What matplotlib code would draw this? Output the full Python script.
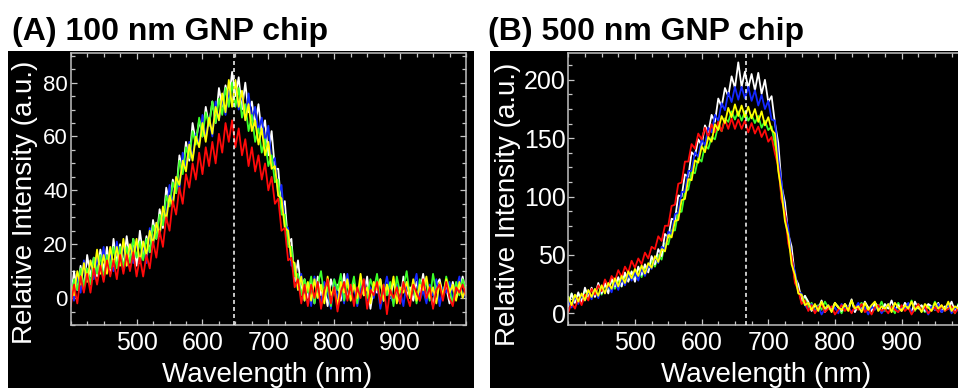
import numpy as np
import matplotlib
matplotlib.use("Agg")
import matplotlib.pyplot as plt
from matplotlib.patches import Rectangle
from matplotlib.ticker import MultipleLocator

plt.rcParams['font.family'] = ['Liberation Sans', 'DejaVu Sans']

# wavelength grid (nm), one reading every 5 nm
wavelength = np.arange(400, 1001, 5)

# (A) 100 nm GNP chip
a_white = [-1,10,3,12,3,16,8,15,8,18,
           10,19,9,22,13,20,12,23,14,22,
           12,25,16,23,17,29,22,33,26,41,
           35,44,39,53,47,58,51,65,58,66,
           60,71,64,73,65,78,71,79,73,84,
           75,82,70,80,69,73,64,72,61,66,
           53,62,48,48,33,36,20,22,6,14,
           3,7,0,6,-2,8,1,4,-3,7,
           2,5,-1,9,0,3,6,-2,5,1,
           8,-4,4,2,7,-1,5,0,6,3,
           -2,8,1,4,-1,6,2,9,0,3,
           -3,5,7,1,4,-2,6,0,3,8,
           2]
a_blue = [7,-1,8,2,14,7,14,7,15,10,
          19,10,17,10,21,14,20,12,19,13,
          21,13,20,13,26,20,28,23,33,30,
          42,35,45,40,54,49,58,52,61,57,
          68,59,67,60,73,66,74,68,77,72,
          81,70,76,66,76,66,71,62,67,58,
          64,50,52,38,42,27,26,12,13,3,
          9,-1,5,-3,8,1,-2,6,2,-4,
          7,0,4,-2,9,1,5,-3,3,7,
          -1,4,0,6,-4,2,8,1,-2,5,
          3,-3,6,0,4,9,-1,3,-2,5,
          1,7,-3,4,2,6,-1,3,8,0,
          2]
a_green = [-1,7,3,11,4,11,5,15,9,16,
           7,16,11,19,11,19,11,19,13,22,
           15,21,14,22,17,27,22,31,27,38,
           34,43,39,51,46,56,52,62,57,67,
           60,69,64,73,65,74,68,78,71,80,
           71,78,67,72,62,68,58,63,54,59,
           49,53,43,44,31,31,19,19,8,9,
           1,7,2,8,-2,5,10,0,4,-3,
           7,3,9,-1,5,2,8,-2,6,4,
           0,7,3,9,-1,5,1,6,-3,8,
           2,4,10,0,5,-2,7,3,6,-1,
           9,2,5,0,8,3,-2,6,1,7,
           3]
a_yellow = [5,1,10,5,13,6,14,9,18,9,
            16,9,19,12,19,12,22,12,20,15,
            22,13,21,16,25,20,28,23,34,29,
            38,34,45,42,51,47,57,51,60,56,
            65,58,67,61,71,66,76,69,81,71,
            81,71,77,66,72,62,66,57,63,53,
            58,48,49,38,37,26,25,14,13,3,
            8,-1,6,-1,7,0,5,-2,8,1,
            4,-3,6,2,7,-1,5,0,9,1,
            4,-2,6,3,7,-1,5,1,8,-2,
            4,2,6,0,7,-1,5,3,8,0,
            4,-2,6,1,7,2,5,-1,6,0,
            4]
a_red = [-3,5,-2,8,2,9,2,11,5,12,
         6,14,8,14,7,16,9,16,10,17,
         8,15,8,16,11,21,15,25,19,30,
         25,36,31,41,35,46,41,50,44,54,
         46,56,49,58,50,61,54,65,58,66,
         56,63,53,59,49,56,47,53,44,50,
         40,45,35,37,25,26,14,15,4,7,
         -2,5,-3,5,0,6,-4,3,7,-2,
         4,-5,2,6,-1,5,-3,4,0,7,
         -4,3,1,6,-2,5,-6,3,0,4,
         -2,6,1,-3,5,2,-1,7,0,4,
         -4,3,5,-1,6,0,-3,4,2,5,
         1]

# (B) 500 nm GNP chip
b_green = [9,17,9,17,10,20,14,21,15,24,
           16,25,20,28,21,29,23,33,28,35,
           30,39,31,40,36,45,40,50,46,60,
           59,71,71,87,87,104,106,121,120,133,
           130,144,141,151,149,161,156,167,164,173,
           166,173,165,173,165,170,163,169,159,165,
           157,160,144,131,98,89,64,52,28,23,
           9,15,4,9,1,7,3,10,5,2,
           8,6,0,7,4,11,2,6,9,3,
           5,1,8,4,10,2,7,5,0,9,
           3,6,4,11,2,8,5,1,7,3,
           10,4,6,2,9,5,0,8,3,7,
           4]
b_white = [6,17,9,18,9,22,14,22,14,26,
           17,26,17,30,23,31,23,35,27,36,
           27,40,33,42,35,49,42,55,49,68,
           65,81,80,101,100,119,117,138,135,149,
           144,161,155,170,164,184,177,193,186,203,
           193,215,194,207,193,205,191,206,188,200,
           181,186,163,146,109,95,68,57,31,25,
           11,15,10,2,7,4,11,1,6,3,
           9,5,2,8,4,12,1,7,3,10,
           5,2,9,6,1,8,4,11,3,7,
           2,9,5,1,10,4,7,2,8,6,
           3,9,1,6,4,10,2,7,5,3,
           8]
b_blue = [11,5,15,8,16,11,19,12,20,13,
          23,17,24,18,28,20,30,24,34,28,
          35,28,39,32,41,38,48,43,57,55,
          70,68,85,86,104,104,122,122,138,134,
          149,144,159,155,170,165,180,174,189,181,
          194,183,194,184,194,182,191,178,187,175,
          182,166,165,132,112,85,73,47,36,18,
          17,7,3,8,1,6,-1,4,7,2,
          5,0,8,3,6,1,4,9,2,5,
          -1,6,3,7,0,4,8,2,5,1,
          6,3,9,0,4,7,2,5,-1,6,
          3,8,1,4,7,0,5,2,6,3,
          1]
b_red = [1,9,4,13,7,16,11,21,16,24,
         19,29,23,32,28,37,31,40,35,45,
         39,47,42,52,47,57,55,66,62,75,
         75,92,93,111,112,130,130,145,141,154,
         149,159,151,162,155,164,156,166,158,167,
         158,166,158,165,155,163,154,160,151,157,
         147,151,137,126,97,86,60,49,26,20,
         8,11,2,7,0,5,8,1,4,6,
         -1,3,7,2,5,0,6,3,8,1,
         4,-1,5,7,2,4,0,6,3,1,
         7,2,5,-1,4,8,2,6,0,3,
         5,1,7,2,4,6,0,5,3,7,
         2]
b_yellow = [14,7,16,10,17,11,20,14,21,15,
            24,17,26,21,30,23,32,26,36,30,
            38,32,41,34,43,39,49,44,55,53,
            67,65,79,80,97,98,115,114,131,129,
            143,138,151,147,162,157,169,163,176,168,
            179,169,178,168,177,167,175,164,173,161,
            168,157,154,122,104,79,67,42,33,17,
            16,7,9,3,8,2,10,4,7,1,
            9,5,3,8,2,11,4,6,1,9,
            3,7,10,2,6,4,8,1,9,5,
            2,7,4,10,3,6,1,8,5,2,
            9,4,7,3,10,2,6,4,8,1,
            6]

peak_a = 648
peak_b = 667
xtick_vals = [500, 600, 700, 800, 900]

fig = plt.figure(figsize=(9.58, 3.88), dpi=100)
fig.patch.set_facecolor('white')

# black panel backgrounds, kept behind the axes
for x0, w in [(0.0084, 0.4868), (0.5115, 0.4885)]:
    fig.add_artist(Rectangle((x0, 0), w, 0.8686, transform=fig.transFigure,
                             facecolor='black', edgecolor='none', zorder=-10))

ax1 = fig.add_axes([0.0738, 0.1624, 0.4126, 0.701])
ax2 = fig.add_axes([0.5932, 0.1624, 0.4175, 0.701])


def style(ax, ylim, ymajor, yminor, ysize):
    ax.set_facecolor('black')
    ax.set_xlim(400, 1000)
    ax.set_ylim(*ylim)
    ax.set_xticks(xtick_vals)
    ax.xaxis.set_minor_locator(MultipleLocator(25))
    ax.yaxis.set_major_locator(MultipleLocator(ymajor))
    ax.yaxis.set_minor_locator(MultipleLocator(yminor))
    ax.tick_params(which='both', direction='in', top=True, right=True,
                   color='#c8c8c8', labelcolor='white', width=0.9)
    ax.tick_params(which='major', length=4.5)
    ax.tick_params(which='minor', length=2.6)
    ax.tick_params(axis='x', labelsize=18, pad=4)
    ax.tick_params(axis='y', labelsize=ysize, pad=2)
    for s in ax.spines.values():
        s.set_color('#c0c0c0')
        s.set_linewidth(1.1)


style(ax1, (-10, 91), 20, 5, 16)
style(ax2, (-10, 223), 50, 12.5, 18)

lw = 1.3
for vals, c in [(a_white, 'white'), (a_blue, '#1428ff'), (a_green, '#3cff28'),
                (a_yellow, '#ffff00'), (a_red, '#ff0a0a')]:
    ax1.plot(wavelength, vals, color=c, lw=lw)
for vals, c in [(b_green, '#3cff28'), (b_white, 'white'), (b_blue, '#1428ff'),
                (b_red, '#ff0a0a'), (b_yellow, '#ffff00')]:
    ax2.plot(wavelength, vals, color=c, lw=lw)

for ax, p in [(ax1, peak_a), (ax2, peak_b)]:
    ax.axvline(p, color='white', lw=1.1, linestyle=(0, (2.6, 2)), zorder=5)

# titles
fig.text(0.0125, 0.897, "(A) 100 nm GNP chip", fontsize=23, fontweight='bold',
         color='black', ha='left', va='baseline')
fig.text(0.5094, 0.897, "(B) 500 nm GNP chip", fontsize=23, fontweight='bold',
         color='black', ha='left', va='baseline')

# axis labels
for xc, yc in [(0.0261, 0.478), (0.530, 0.473)]:
    fig.text(xc, yc, "Relative Intensity (a.u.)", rotation=90, fontsize=20,
             color='white', ha='center', va='center')
for xc in [0.2792, 0.7993]:
    fig.text(xc, 0.0162, "Wavelength (nm)", fontsize=20, color='white',
             ha='center', va='baseline')

fig.savefig('out.png', dpi=100, facecolor='white')
